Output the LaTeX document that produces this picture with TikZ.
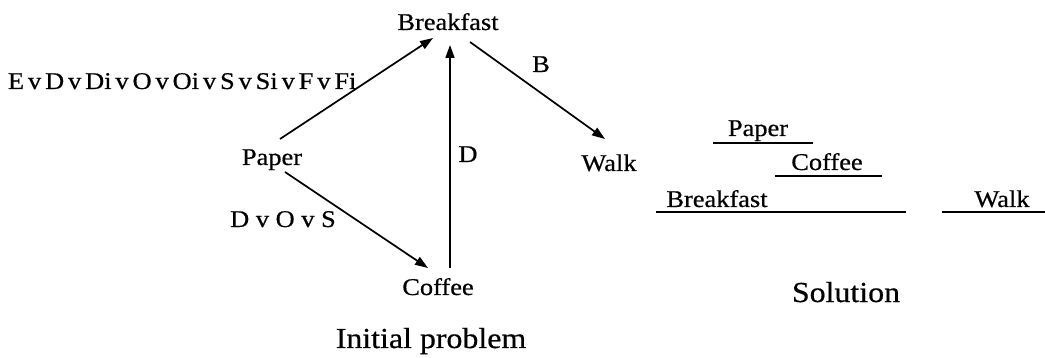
\documentclass[tikz,border=0pt]{standalone}
\usepackage{fontspec}
\setmainfont[FakeStretch=1.1,FakeBold=0.6]{Liberation Serif}
\usetikzlibrary{arrows.meta}
\begin{document}
\begin{tikzpicture}[x=1pt,y=-1pt,
  lbl/.style={inner sep=0pt, outer sep=0pt, anchor=base, text height=17pt, text depth=5pt,
    font=\fontsize{24}{28}\selectfont},
  big/.style={inner sep=0pt, anchor=base, font=\fontsize{29}{34}\selectfont},
  arr/.style={line width=1.7pt, -{Triangle[length=13pt,width=9pt]}},
  bar/.style={line width=1.7pt}]
\useasboundingbox (0,0) rectangle (1045,358);
% initial problem graph
\node[lbl] (breakfast) at (448,30) {Breakfast};
\node[lbl] (paper) at (272,165) {Paper};
\node[lbl] (coffee) at (438,295) {Coffee};
\node[lbl] (walk) at (609,171) {Walk};
\node[lbl, anchor=base west] (lpb) at (8,89) {\spaceskip=3.9pt\relax E v D v Di v O v Oi v S v Si v F v Fi};
\node[lbl] (lpc) at (283,227) {D v O v S};
\node[lbl] (lcb) at (468,162) {D};
\node[lbl] (lbw) at (541,72) {B};
\draw[arr] ([shift={(8,-9)}]paper.north) -- ([shift={(-15,3)}]breakfast.south);
\draw[arr] ([shift={(13,2)}]paper.south) -- ([shift={(-10,-10)}]coffee.north);
\draw[arr] ([shift={(12,-10)}]coffee.north) -- ([shift={(2,10)}]breakfast.south);
\draw[arr] ([shift={(22,7)}]breakfast.south) -- ([shift={(-4,-15)}]walk.north);
\node[big] (title1) at (431,348) {Initial problem};
% solution
\node[lbl] (spaper) at (758,136) {Paper};
\node[lbl] (scoffee) at (827,170) {Coffee};
\node[lbl] (sbreakfast) at (717,207) {Breakfast};
\node[lbl] (swalk) at (1002,207) {Walk};
\draw[bar] (713,143) -- (813,143);
\draw[bar] (775,176) -- (882,176);
\draw[bar] (656,212) -- (906,212);
\draw[bar] (942,212) -- (1045,212);
\node[big] (title2) at (846,302) {Solution};
\end{tikzpicture}
\end{document}
